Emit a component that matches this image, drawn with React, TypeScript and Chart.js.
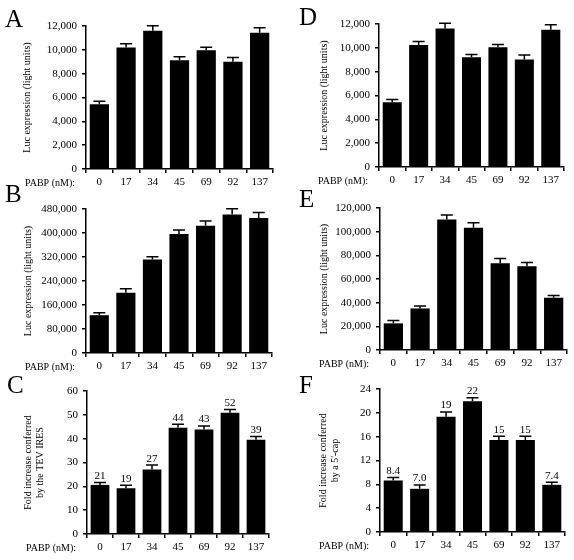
import React, { useEffect, useRef } from 'react';
import { Chart, registerables } from 'chart.js';

Chart.register(...registerables);

const FONT = "'Liberation Serif', 'Times New Roman', serif";

// ---- data ----
const pabpLabels = ['0', '17', '34', '45', '69', '92', '137'];

const aValues = [5440, 10190, 11610, 9130, 9960, 8990, 11440];
const aErrors = [250, 330, 420, 300, 250, 360, 420];

const bValues = [126000, 201000, 312000, 397000, 424000, 462000, 450000];
const bErrors = [8000, 13000, 9000, 13000, 16000, 19000, 18000];

const cValues = [20.6, 19.2, 27.1, 44.6, 43.8, 50.9, 39.5];
const cErrors = [1.0, 1.3, 1.8, 1.4, 1.5, 1.3, 1.4];
const cLabels = ['21', '19', '27', '44', '43', '52', '39'];

const dValues = [5440, 10230, 11630, 9200, 10040, 9030, 11520];
const dErrors = [220, 310, 430, 250, 250, 360, 420];

const eValues = [22500, 35100, 110200, 103400, 73400, 70800, 44100];
const eErrors = [2500, 2000, 3900, 4200, 3900, 3100, 2000];

const fValues = [8.65, 7.25, 19.36, 21.93, 15.46, 15.46, 7.92];
const fErrors = [0.5, 0.62, 0.79, 0.62, 0.61, 0.61, 0.45];
const fLabels = ['8.4', '7.0', '19', '22', '15', '15', '7.4'];

const lucTitle = 'Luc expression (light units)';
const cTitle = ['Fold increase conferred', 'by the TEV IRES'];
const fTitle = ['Fold increase conferred', "by a 5'-cap"];
const xPrefix = 'PABP (nM):';

// ---- layout ----
type Panel = {
  letter: string;
  values: number[];
  errors: number[];
  labels?: string[];
  max: number;
  step: number;
  title: string | string[];
  titlePad: number;
  left: number;
  top: number;
  area: { l: number; t: number; r: number; b: number };
  letterPos: { x: number; y: number };
};

const W = 287;
const H = 190;

const panels: Panel[] = [
  { letter: 'A', values: aValues, errors: aErrors, max: 12000, step: 2000, title: lucTitle, titlePad: 21,
    left: 0, top: 0, area: { l: 86, t: 26, r: 273, b: 169 }, letterPos: { x: 5, y: 6 } },
  { letter: 'B', values: bValues, errors: bErrors, max: 480000, step: 80000, title: lucTitle, titlePad: 22,
    left: 0, top: 185, area: { l: 86, t: 24, r: 272, b: 168 }, letterPos: { x: 5, y: 181 } },
  { letter: 'C', values: cValues, errors: cErrors, labels: cLabels, max: 60, step: 10, title: cTitle, titlePad: 22,
    left: 0, top: 370, area: { l: 87, t: 21, r: 269, b: 164 }, letterPos: { x: 7, y: 372 } },
  { letter: 'D', values: dValues, errors: dErrors, max: 12000, step: 2000, title: lucTitle, titlePad: 31,
    left: 287, top: 0, area: { l: 92, t: 24, r: 277, b: 167 }, letterPos: { x: 299, y: 4 } },
  { letter: 'E', values: eValues, errors: eErrors, max: 120000, step: 20000, title: lucTitle, titlePad: 31,
    left: 287, top: 185, area: { l: 93, t: 23, r: 280, b: 165 }, letterPos: { x: 299, y: 186 } },
  { letter: 'F', values: fValues, errors: fErrors, labels: fLabels, max: 24, step: 4, title: fTitle, titlePad: 30,
    left: 287, top: 370, area: { l: 93, t: 19, r: 278, b: 162 }, letterPos: { x: 299, y: 372 } },
];

const errorBarPlugin = {
  id: 'errorBars',
  afterDatasetsDraw(chart: any, _args: any, opts: any) {
    const { ctx } = chart;
    const meta = chart.getDatasetMeta(0);
    const ys = chart.scales.y;
    const xs = chart.scales.x;
    const data = chart.data.datasets[0].data as number[];
    const errs: number[] = opts.errors || [];
    const labels: string[] | undefined = opts.labels;
    ctx.save();
    ctx.strokeStyle = '#000';
    ctx.fillStyle = '#000';
    ctx.lineWidth = 1.5;
    meta.data.forEach((bar: any, i: number) => {
      const topY = ys.getPixelForValue(data[i] + errs[i]);
      const x = bar.x;
      ctx.beginPath();
      ctx.moveTo(x, bar.y);
      ctx.lineTo(x, topY);
      ctx.moveTo(x - 6, topY);
      ctx.lineTo(x + 6, topY);
      ctx.stroke();
      if (labels) {
        ctx.font = `11px ${FONT}`;
        ctx.textAlign = 'center';
        ctx.textBaseline = 'bottom';
        ctx.fillText(labels[i], x, topY - 1);
      }
    });
    ctx.font = `10px ${FONT}`;
    ctx.textAlign = 'right';
    ctx.textBaseline = 'middle';
    ctx.fillText(xPrefix, chart.chartArea.left - 11, xs.top + 4 + 3 + 7);
    ctx.restore();
  },
};

function PanelChart({ p }: { p: Panel }) {
  const ref = useRef<HTMLCanvasElement | null>(null);
  useEffect(() => {
    if (!ref.current) return;
    const chart = new Chart(ref.current, {
      type: 'bar',
      data: {
        labels: pabpLabels,
        datasets: [
          {
            data: p.values,
            backgroundColor: '#000',
            borderWidth: 0,
            categoryPercentage: 1,
            barPercentage: 0.72,
          },
        ],
      },
      options: {
        responsive: false,
        maintainAspectRatio: false,
        animation: false,
        layout: { padding: { left: 0, top: p.area.t, right: W - p.area.r, bottom: 0 } },
        plugins: {
          legend: { display: false },
          tooltip: { enabled: false },
          errorBars: { errors: p.errors, labels: p.labels },
        } as any,
        scales: {
          x: {
            type: 'category',
            grid: { offset: true, drawOnChartArea: false, drawTicks: true, tickLength: 4, color: '#000', lineWidth: 1.5 },
            border: { color: '#000', width: 1.5 },
            ticks: { color: '#000', font: { family: FONT, size: 11 }, padding: 3, maxRotation: 0, autoSkip: false },
            afterFit: (s: any) => { s.height = H - p.area.b; },
          },
          y: {
            min: 0,
            max: p.max,
            grid: { drawOnChartArea: false, drawTicks: true, tickLength: 4, color: '#000', lineWidth: 1.5 },
            border: { color: '#000', width: 1.5 },
            ticks: {
              stepSize: p.step,
              color: '#000',
              padding: 5,
              font: { family: FONT, size: 11 },
              callback: (v: any) => Number(v).toLocaleString('en-US'),
            },
            title: {
              display: true,
              text: p.title,
              color: '#000',
              font: { family: FONT, size: 10, lineHeight: 1.2 },
              padding: { top: p.titlePad, bottom: 0 },
            },
            afterFit: (s: any) => { s.width = p.area.l; },
          },
        },
      },
      plugins: [errorBarPlugin],
    } as any);
    return () => chart.destroy();
  }, [p]);
  return (
    <canvas
      ref={ref}
      width={W}
      height={H}
      style={{ position: 'absolute', left: p.left, top: p.top, width: W, height: H }}
    />
  );
}

export default function App() {
  return (
    <div style={{ position: 'absolute', left: 0, top: 0, width: 574, height: 560, background: '#fff', overflow: 'hidden' }}>
      {panels.map((p) => (
        <PanelChart key={p.letter} p={p} />
      ))}
      {panels.map((p) => (
        <div
          key={'l' + p.letter}
          style={{
            position: 'absolute',
            left: p.letterPos.x,
            top: p.letterPos.y,
            fontFamily: FONT,
            fontSize: 25,
            lineHeight: '25px',
            color: '#000',
          }}
        >
          {p.letter}
        </div>
      ))}
    </div>
  );
}
